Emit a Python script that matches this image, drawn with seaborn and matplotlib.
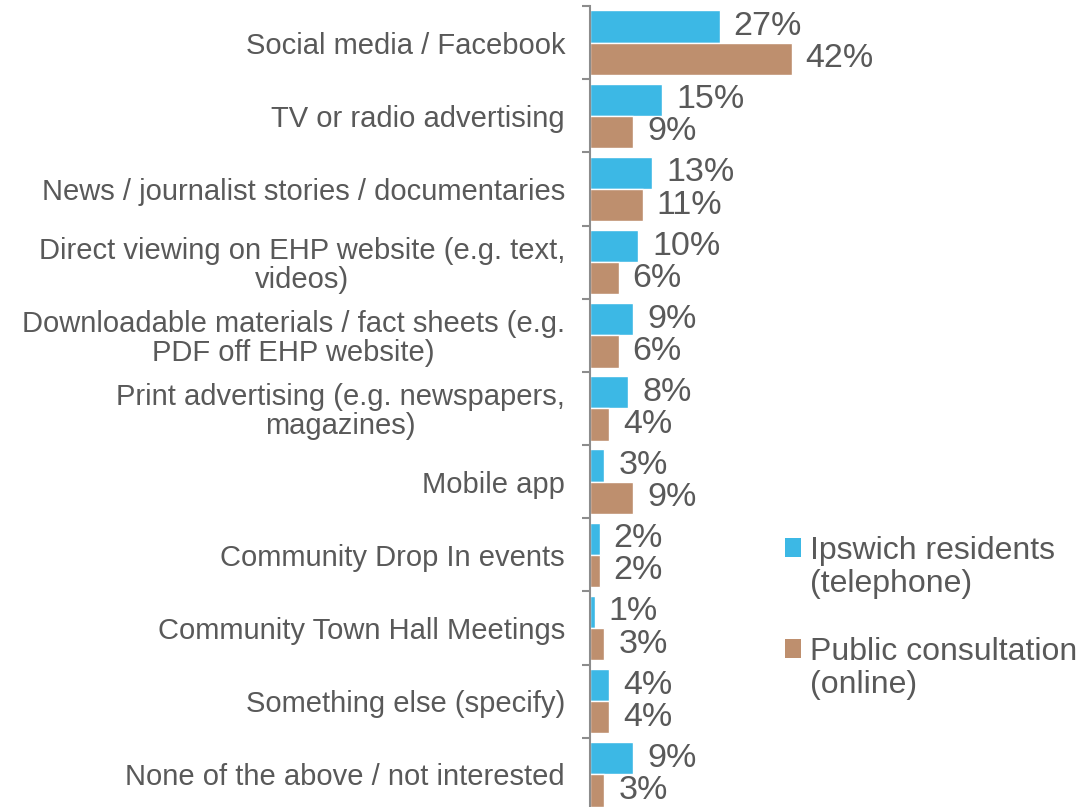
import matplotlib
matplotlib.use("Agg")
import matplotlib.pyplot as plt
import seaborn as sns
import pandas as pd
import numpy as np
from matplotlib.patches import Patch, Rectangle
from matplotlib.legend_handler import HandlerPatch

categories = [
    "Social media / Facebook",
    "TV or radio advertising",
    "News / journalist stories / documentaries",
    "Direct viewing on EHP website (e.g. text,\nvideos)",
    "Downloadable materials / fact sheets (e.g.\nPDF off EHP website)",
    "Print advertising (e.g. newspapers,\nmagazines)",
    "Mobile app",
    "Community Drop In events",
    "Community Town Hall Meetings",
    "Something else (specify)",
    "None of the above / not interested",
]
series_names = ["Ipswich residents\n(telephone)", "Public consultation\n(online)"]
ipswich = [27, 15, 13, 10, 9, 8, 3, 2, 1, 4, 9]
public = [42, 9, 11, 6, 6, 4, 9, 2, 3, 4, 3]
colors = ["#3CB8E5", "#BE8F6E"]

df = pd.DataFrame({
    "category": categories * 2,
    "series": [series_names[0]] * len(categories) + [series_names[1]] * len(categories),
    "value": ipswich + public,
})

sns.set_theme(style="white")
plt.rcParams["font.family"] = ["Liberation Sans", "DejaVu Sans"]
text_color = "#595959"

fig = plt.figure(figsize=(10.91, 8.07), dpi=100)
ax = fig.add_axes([590 / 1091, -4 / 807, 240 / 1091, 805 / 807])

sns.barplot(data=df, y="category", x="value", hue="series", orient="h",
            palette=colors, width=0.88, ax=ax, legend=False, saturation=1)

ax.set_xlim(0, 50)
ax.set_ylim(10.5, -0.5)
ax.set_xlabel("")
ax.set_ylabel("")
ax.set_xticks([])

for s in ["top", "right", "bottom"]:
    ax.spines[s].set_visible(False)
ax.spines["left"].set_color("#8c8c8c")
ax.spines["left"].set_linewidth(1.5)

ax.set_yticks(range(len(categories)))
ax.set_yticklabels(categories, fontsize=21, color=text_color)
for t in ax.get_yticklabels():
    t.set_multialignment("center")
    t.set_linespacing(1.02)
ax.tick_params(axis="y", which="major", length=0, pad=18)
ax.set_yticks(np.arange(-0.5, len(categories) - 0.5, 1), minor=True)
ax.tick_params(axis="y", which="minor", length=6, width=1.5, color="#8c8c8c", left=True)

for cont in ax.containers:
    ax.bar_label(cont, labels=[f"{int(round(v))}%" for v in cont.datavalues],
                 padding=10, fontsize=24.5, color=text_color, clip_on=False)


class TopHandler(HandlerPatch):
    def create_artists(self, legend, orig_handle, xdescent, ydescent,
                       width, height, fontsize, trans):
        shift = fontsize * 0.62
        p = Rectangle((-xdescent, -ydescent + shift), width, height,
                      facecolor=orig_handle.get_facecolor(), edgecolor="none",
                      transform=trans)
        return [p]


handles = [Patch(facecolor=c, edgecolor="none") for c in colors]
leg = fig.legend(handles, series_names, loc="upper left",
                 bbox_to_anchor=(756 / 1091, 1 - 507 / 807), frameon=False,
                 fontsize=23, handlelength=0.5, handleheight=0.5,
                 handletextpad=0.3, labelspacing=1.2, labelcolor=text_color,
                 handler_map={Patch: TopHandler()})
for t in leg.get_texts():
    t.set_linespacing(1.12)

fig.savefig("out.png", dpi=100)
